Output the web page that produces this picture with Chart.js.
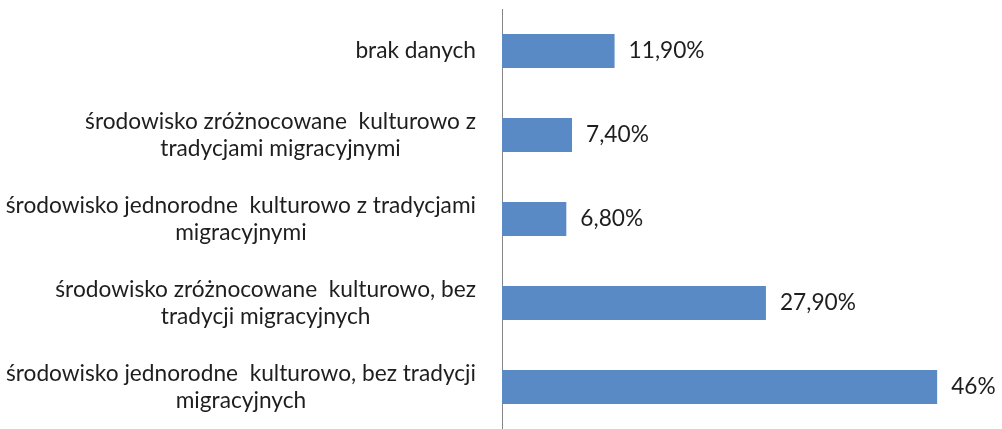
<!DOCTYPE html>
<html>
<head>
<meta charset="utf-8">
<script src="https://cdn.jsdelivr.net/npm/chart.js@4.4.0/dist/chart.umd.min.js"></script>
<style>
  html, body { margin: 0; padding: 0; background: #fff; }
  #wrap { width: 1002px; height: 429px; }
</style>
</head>
<body>
<div id="wrap"><canvas id="chart"></canvas></div>
<script>
// categories, top to bottom (multi-line labels)
const categories = [
  ['brak danych'],
  ['środowisko zróżnocowane  kulturowo z', 'tradycjami migracyjnymi'],
  ['środowisko jednorodne  kulturowo z tradycjami', 'migracyjnymi'],
  ['środowisko zróżnocowane  kulturowo, bez', 'tradycji migracyjnych'],
  ['środowisko jednorodne  kulturowo, bez tradycji', 'migracyjnych']
];
const values = [11.9, 7.4, 6.8, 27.9, 46];
const valueLabels = ['11,90%', '7,40%', '6,80%', '27,90%', '46%'];

const FONT = '22.7px Lato, "Open Sans", sans-serif';
const TEXT = '#1e1e1e';

// draws category labels (lines centred inside a right-aligned block) and value labels
const labelPlugin = {
  id: 'labels',
  afterDraw(chart) {
    const ctx = chart.ctx;
    const yScale = chart.scales.y;
    const meta = chart.getDatasetMeta(0);
    ctx.save();
    ctx.font = FONT;
    ctx.fillStyle = TEXT;
    ctx.textBaseline = 'middle';

    const right = chart.chartArea.left - 26;
    const lineH = 27;
    categories.forEach((lines, i) => {
      const cy = yScale.getPixelForTick(i);
      const blockW = Math.max(...lines.map(l => ctx.measureText(l).width));
      const cx = right - blockW / 2;
      ctx.textAlign = 'center';
      lines.forEach((l, k) => {
        ctx.fillText(l, cx, cy + (k - (lines.length - 1) / 2) * lineH);
      });
    });

    ctx.textAlign = 'left';
    meta.data.forEach((bar, i) => {
      ctx.fillText(valueLabels[i], bar.x + 14, bar.y);
    });
    ctx.restore();
  }
};

new Chart(document.getElementById('chart'), {
  type: 'bar',
  data: {
    labels: categories,
    datasets: [{
      data: values,
      backgroundColor: '#5a8ac6',
      borderWidth: 0,
      categoryPercentage: 1,
      barPercentage: 0.405
    }]
  },
  options: {
    indexAxis: 'y',
    responsive: true,
    maintainAspectRatio: false,
    animation: false,
    layout: { padding: { top: 9, right: 27, bottom: 0, left: 0 } },
    plugins: { legend: { display: false }, tooltip: { enabled: false } },
    scales: {
      x: { display: false, min: 0, max: 50 },
      y: {
        ticks: { display: false },
        grid: { display: false },
        border: { display: true, color: '#868686', width: 1 },
        afterFit(scale) { scale.width = 502; }
      }
    }
  },
  plugins: [labelPlugin]
});
</script>
</body>
</html>
